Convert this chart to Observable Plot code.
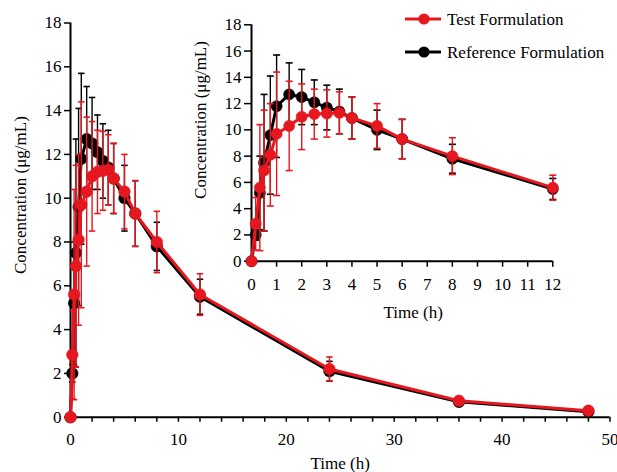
<!DOCTYPE html>
<html>
<head>
<meta charset="utf-8">
<script src="https://cdn.jsdelivr.net/npm/d3@7"></script>
<script src="https://cdn.jsdelivr.net/npm/@observablehq/plot@0.6"></script>
<style>
  html, body { margin: 0; padding: 0; background: #fff; }
  #wrap { position: relative; width: 617px; height: 472px; overflow: hidden; font-family: "Liberation Serif", "Times New Roman", serif; }
  #wrap svg { position: absolute; overflow: visible; }
  #wrap svg text { font-family: "Liberation Serif", "Times New Roman", serif; }
</style>
</head>
<body>
<div id="wrap"></div>
<script>
// ---- data ----
const times    = [0, 0.167, 0.333, 0.5, 0.75, 1, 1.5, 2, 2.5, 3, 3.5, 4, 5, 6, 8, 12, 24, 36, 48];
const testMean = [0, 2.85, 5.6, 6.9, 8.1, 9.7, 10.3, 11.0, 11.2, 11.25, 11.3, 10.9, 10.3, 9.3, 8.0, 5.6, 2.2, 0.75, 0.3];
const testSD   = [0, 2.0, 4.8, 4.6, 3.9, 4.7, 3.4, 2.5, 1.9, 1.8, 1.6, 1.6, 1.7, 1.5, 1.4, 0.95, 0.55, 0.2, 0.05];
const refMean  = [0, 2.0, 5.2, 7.5, 9.6, 11.8, 12.7, 12.5, 12.1, 11.7, 11.4, 10.9, 10.0, 9.3, 7.8, 5.5, 2.1, 0.7, 0.25];
const refSD    = [0, 0.4, 2.8, 5.2, 4.5, 3.9, 2.4, 2.1, 1.7, 1.7, 1.7, 1.6, 1.5, 1.5, 1.1, 0.8, 0.45, 0.2, 0.05];

const seriesNames  = ["Test Formulation", "Reference Formulation"];
const seriesColors = ["#e5171f", "#000000"];

const mainXTicks  = [0, 10, 20, 30, 40, 50];
const mainYTicks  = [0, 2, 4, 6, 8, 10, 12, 14, 16, 18];
const insetXTicks = [0, 1, 2, 3, 4, 5, 6, 7, 8, 9, 10, 11, 12];
const insetYTicks = [0, 2, 4, 6, 8, 10, 12, 14, 16, 18];

const xLabel = "Time (h)";
const yLabel = "Concentration (\u03bcg/mL)";

// ---- table built from arrays ----
const rows = [];
const seriesData = [
  {name: seriesNames[1], color: seriesColors[1], mean: refMean, sd: refSD},
  {name: seriesNames[0], color: seriesColors[0], mean: testMean, sd: testSD}
];
seriesData.forEach(s => times.forEach((t, i) => rows.push({t, series: s.name, color: s.color, c: s.mean[i], sd: s.sd[i]})));

const capSymbol = {
  draw(ctx, size) { const r = Math.sqrt(size / Math.PI); ctx.moveTo(-r, 0); ctx.lineTo(r, 0); }
};

function seriesMarks(data, opts) {
  const marks = [];
  for (const s of seriesData) {
    const d = data.filter(r => r.series === s.name);
    marks.push(
      Plot.ruleX(d, {x: "t", y1: r => r.c - r.sd, y2: r => r.c + r.sd, stroke: s.color, strokeWidth: 1.4}),
      Plot.dot(d, {x: "t", y: r => r.c - r.sd, symbol: capSymbol, r: opts.cap, stroke: s.color, fill: "none", strokeWidth: 1.6}),
      Plot.dot(d, {x: "t", y: r => r.c + r.sd, symbol: capSymbol, r: opts.cap, stroke: s.color, fill: "none", strokeWidth: 1.6}),
      Plot.line(d, {x: "t", y: "c", stroke: s.color, strokeWidth: 3}),
      Plot.dot(d, {x: "t", y: "c", r: opts.dot, fill: s.color, stroke: s.color, strokeWidth: 0.5})
    );
  }
  return marks;
}

const fontStyle = {fontFamily: "'Liberation Serif', 'Times New Roman', serif", fontSize: "17px", background: "transparent", color: "#000", overflow: "visible"};

// ---- main chart ----
const mainMinor = d3.range(0, 51, 2);
const main = Plot.plot({
  width: 617, height: 472,
  marginLeft: 70, marginRight: 7.5, marginTop: 22.5, marginBottom: 55.3,
  style: fontStyle,
  x: {domain: [0, 50]},
  y: {domain: [0, 18]},
  marks: [
    Plot.axisX({ticks: mainMinor, tickSize: 5, tickPadding: 11, strokeWidth: 1.5, label: null,
                tickFormat: d => mainXTicks.includes(d) ? String(d) : ""}),
    Plot.axisY({ticks: mainYTicks, tickSize: 6, tickPadding: 3, strokeWidth: 1.5, label: null}),
    Plot.ruleY([0], {strokeWidth: 2}),
    Plot.ruleX([0], {strokeWidth: 2}),
    Plot.text([xLabel], {text: d => d, frameAnchor: "bottom", dy: 46, textAnchor: "middle", lineAnchor: "middle", fontSize: 17}),
    Plot.text([yLabel], {text: d => d, frameAnchor: "left", rotate: -90, dx: -50, dy: -25, textAnchor: "middle", lineAnchor: "middle", fontSize: 17}),
    ...seriesMarks(rows, {cap: 3.2, dot: 5.8})
  ]
});
main.style.left = "0px"; main.style.top = "0px";

// ---- inset chart ----
const insetRows = rows.filter(r => r.t <= 12);
const inset = Plot.plot({
  width: 380, height: 330,
  marginLeft: 71, marginRight: 7.7, marginTop: 24.3, marginBottom: 69.3,
  style: fontStyle,
  x: {domain: [0, 12]},
  y: {domain: [0, 18]},
  marks: [
    Plot.axisX({ticks: insetXTicks, tickSize: 6, tickPadding: 11, strokeWidth: 1.5, label: null}),
    Plot.axisY({ticks: insetYTicks, tickSize: 7, tickPadding: 3, strokeWidth: 1.5, label: null}),
    Plot.ruleY([0], {strokeWidth: 2}),
    Plot.ruleX([0], {strokeWidth: 2}),
    Plot.text([xLabel], {text: d => d, frameAnchor: "bottom", dy: 51, dx: 11, textAnchor: "middle", lineAnchor: "middle", fontSize: 17}),
    Plot.text([yLabel], {text: d => d, frameAnchor: "left", rotate: -90, dx: -51, dy: -23, textAnchor: "middle", lineAnchor: "middle", fontSize: 17}),
    ...seriesMarks(insetRows, {cap: 3.5, dot: 5.6})
  ]
});
inset.style.left = "180px"; inset.style.top = "0px";

const wrap = document.getElementById("wrap");
wrap.appendChild(main);
wrap.appendChild(inset);

// ---- legend ----
const legend = d3.create("svg").attr("width", 617).attr("height", 70)
  .style("left", "0px").style("top", "0px")
  .style("font-family", "'Liberation Serif', 'Times New Roman', serif");
const legendItems = [
  {name: seriesNames[0], color: seriesColors[0], y: 19},
  {name: seriesNames[1], color: seriesColors[1], y: 52}
];
for (const it of legendItems) {
  const g = legend.append("g");
  g.append("line").attr("x1", 405).attr("x2", 441).attr("y1", it.y).attr("y2", it.y)
    .attr("stroke", it.color).attr("stroke-width", 3);
  g.append("circle").attr("cx", 424).attr("cy", it.y).attr("r", 5.6).attr("fill", it.color);
  g.append("text").attr("x", 447).attr("y", it.y).attr("dy", "0.35em")
    .style("font-size", "17px")
    .text(it.name);
}
wrap.appendChild(legend.node());
</script>
</body>
</html>
